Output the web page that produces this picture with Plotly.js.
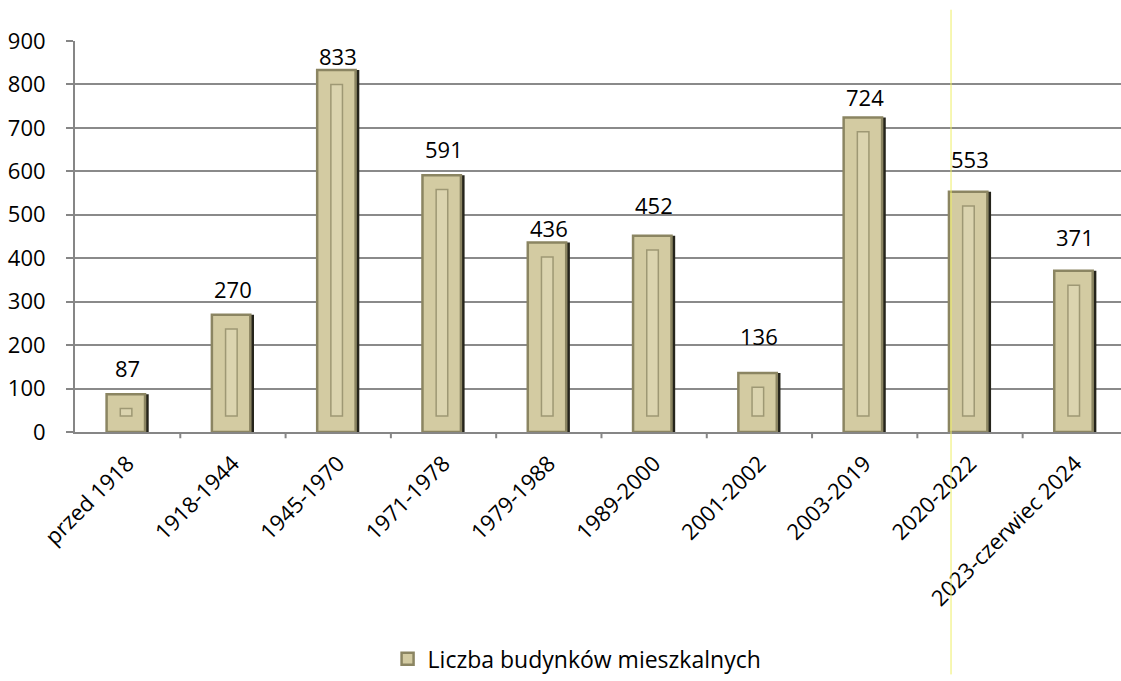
<!DOCTYPE html>
<html>
<head>
<meta charset="utf-8">
<script src="https://cdn.plot.ly/plotly-3.0.1.min.js"></script>
<style>html,body{margin:0;padding:0;background:#fff;}#chart{width:1121px;height:681px;}</style>
</head>
<body>
<div id="chart"></div>
<script>
const categories = ["przed 1918","1918-1944","1945-1970","1971-1978","1979-1988","1989-2000","2001-2002","2003-2019","2020-2022","2023-czerwiec 2024"];
const values = [87, 270, 833, 591, 436, 452, 136, 724, 553, 371];
const seriesName = "Liczba budynków mieszkalnych";
const yTicks = [0,100,200,300,400,500,600,700,800,900];

// label lift above bar top (px) - styling only
const labelLift = [9, 9, -3, 9, -2, 14, 20, 3, 16, 17];

const idx = categories.map((c, i) => i);
const font = "Open Sans, Noto Sans, sans-serif";

const darkEdge = {
  type: "bar", x: idx, y: values, width: 0.4, offset: -0.2,
  marker: {color: "#25241b", line: {width: 0}},
  showlegend: false, hoverinfo: "skip"
};
const main = {
  type: "bar", x: idx, y: values, width: 0.365, offset: -0.2, name: seriesName,
  marker: {color: "#d3cba2", line: {color: "#8b8562", width: 2.5}},
  showlegend: true
};
const groove = {
  type: "bar", x: idx, y: values.map(v => Math.max(v - 70, 12)), base: 37,
  width: 0.11, offset: -0.07,
  marker: {color: "#dbd4af", line: {color: "#9e9874", width: 1.5}},
  showlegend: false, hoverinfo: "skip"
};

const annotations = values.map((v, i) => ({
  x: i, y: v, xref: "x", yref: "y", text: String(v), showarrow: false,
  yanchor: "bottom", yshift: labelLift[i],
  font: {family: font, size: 22, color: "#000"}
}));

const layout = {
  width: 1121, height: 681,
  margin: {l: 75, r: 0, t: 41, b: 245},
  paper_bgcolor: "#fff", plot_bgcolor: "#fff",
  barmode: "overlay",
  font: {family: font, size: 22, color: "#000"},
  xaxis: {
    type: "linear", range: [-0.5, 9.434],
    tickmode: "array", tickvals: idx, ticktext: categories,
    tickangle: -45, ticks: "", showgrid: false,
    showline: true, linecolor: "#868686", linewidth: 2,
    tickfont: {family: font, size: 22, color: "#000"},
    ticklabelstandoff: 8,
    zeroline: false, fixedrange: true
  },
  yaxis: {
    range: [0, 900], tickmode: "array", tickvals: yTicks,
    ticks: "outside", ticklen: 7, tickcolor: "#868686", tickwidth: 2,
    showgrid: true, gridcolor: "#8a8a8a", gridwidth: 2,
    showline: true, linecolor: "#868686", linewidth: 2,
    zeroline: false, tickfont: {family: font, size: 22, color: "#000"},
    ticklabelstandoff: 16, fixedrange: true
  },
  shapes: idx.map(i => ({
    type: "line", xref: "x", yref: "paper", x0: i + 0.5, x1: i + 0.5, y0: 0, y1: -0.016,
    line: {color: "#868686", width: 2}
  })).concat([{
    type: "line", xref: "paper", yref: "paper", x0: 0.8375, x1: 0.8375, y0: 1.08, y1: -0.62,
    line: {color: "#eeee66", width: 1}
  }]),
  annotations: annotations,
  legend: {
    orientation: "h", x: 0.48, xanchor: "center", y: -0.58, yanchor: "middle",
    font: {family: font, size: 23, color: "#000"},
    itemwidth: 30, traceorder: "normal"
  },
  showlegend: true
};

Plotly.newPlot("chart", [darkEdge, main, groove], layout, {displayModeBar: false, staticPlot: true});
</script>
</body>
</html>
